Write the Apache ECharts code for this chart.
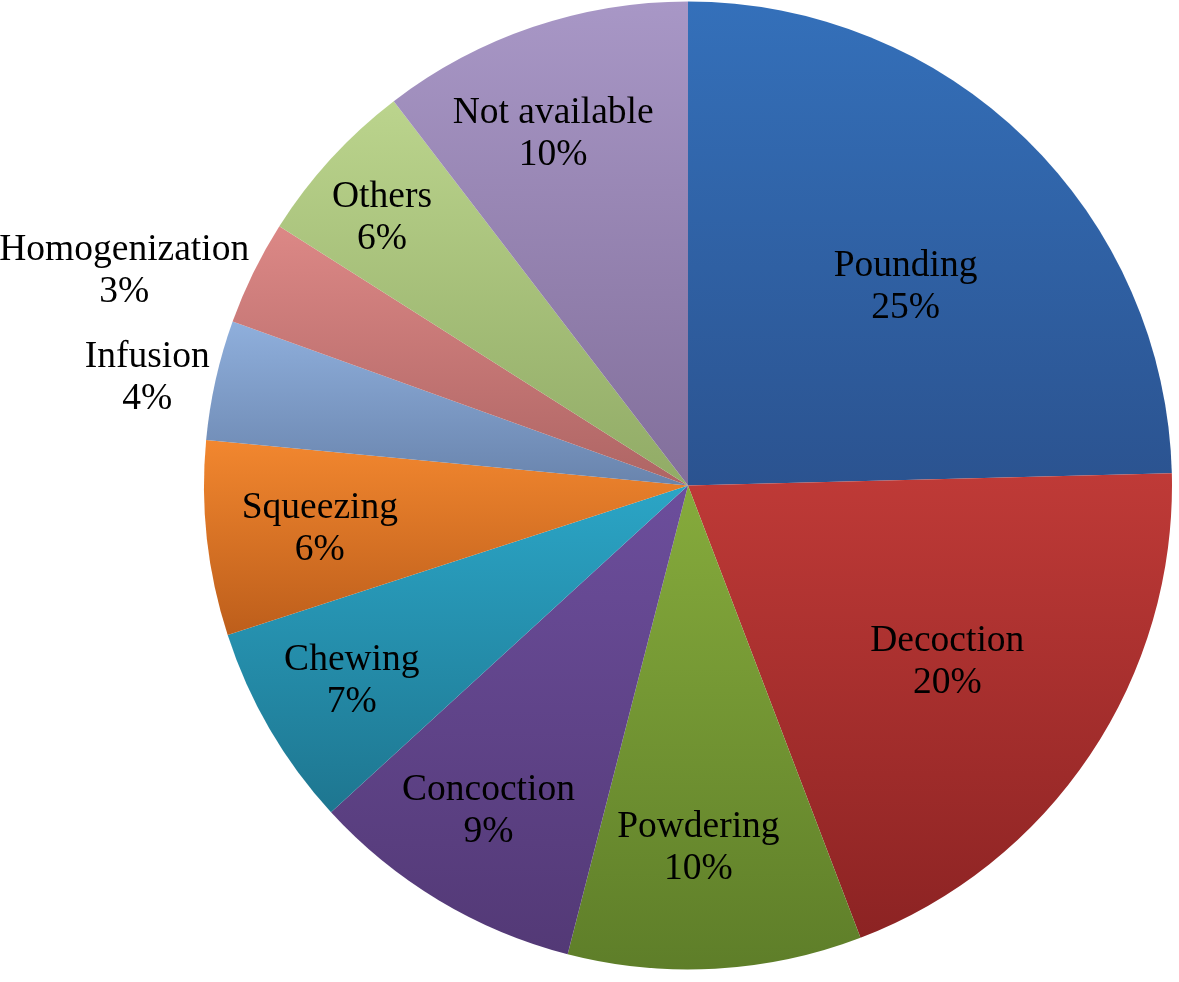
<!DOCTYPE html>
<html>
<head>
<meta charset="utf-8">
<title>Preparation methods</title>
<script src="https://cdn.jsdelivr.net/npm/echarts@6/dist/echarts.min.js"></script>
<style>
  html, body { margin: 0; padding: 0; background: #fff; }
  #pie_main { width: 1179px; height: 982px; }
</style>
</head>
<body>
<div id="pie_main"></div>
<script>
// data (share of each method, %)
var categories = ["Pounding", "Decoction", "Powdering", "Concoction", "Chewing",
                  "Squeezing", "Infusion", "Homogenization", "Others", "Not available"];
var values = [24.6, 19.6, 9.8, 9.2, 6.8, 6.5, 4.0, 3.5, 5.6, 10.4];

// gradient colours per slice: top -> bottom
var topColors = ["#3470ba", "#bf3a37", "#86ab3c", "#6c4e9c", "#2ba5c6",
                 "#f2872f", "#8fafdc", "#dc8886", "#bbd48d", "#a897c6"];
var bottomColors = ["#2b5390", "#8c2323", "#5e7e29", "#533976", "#1e7690",
                    "#bd5e1b", "#6984ad", "#ae6564", "#91ab66", "#826f9b"];

// label placement: distance (fraction of radius) and angular nudge (deg) from slice middle
var labelDist = [0.608, 0.648, 0.749, 0.790, 0.804, 0.766, 1.139, 1.246, 0.840, 0.777];
var labelNudge = [3.4, 0.4, 1.6, 0.5, 0, -0.5, -1.4, -5.3, -1.3, -2.3];

var CX = 688, CY = 485.5, RADIUS = 484;

var total = 0;
var cum = [];
values.forEach(function (v) { cum.push(total); total += v; });

var myChart = echarts.init(document.getElementById("pie_main"));
myChart.setOption({
  animation: false,
  series: [
    {
      type: "pie",
      center: [CX, CY],
      radius: [0, RADIUS],
      startAngle: 90,
      clockwise: true,
      percentPrecision: 0,
      avoidLabelOverlap: false,
      silent: true,
      data: categories.map(function (name, i) {
        return {
          name: name,
          value: values[i],
          itemStyle: {
            color: {
              type: "linear", x: 0, y: 0, x2: 0, y2: 1,
              colorStops: [
                { offset: 0, color: topColors[i] },
                { offset: 1, color: bottomColors[i] }
              ]
            }
          }
        };
      }),
      itemStyle: { borderWidth: 0 },
      label: {
        show: true,
        position: "inside",
        formatter: "{b}\n{d}%",
        color: "#000",
        fontFamily: "Liberation Serif",
        fontSize: 37.5,
        lineHeight: 42,
        align: "center"
      },
      labelLine: { show: false },
      //把标签沿着扇区中线放出去
      labelLayout: function (params) {
        var i = params.dataIndex;
        var mid = (cum[i] + values[i] / 2) / total * 2 * Math.PI + labelNudge[i] * Math.PI / 180;
        var r = RADIUS * labelDist[i];
        return {
          x: CX + r * Math.sin(mid),
          y: CY - r * Math.cos(mid),
          align: "center",
          verticalAlign: "middle"
        };
      }
    }
  ]
});
</script>
</body>
</html>
